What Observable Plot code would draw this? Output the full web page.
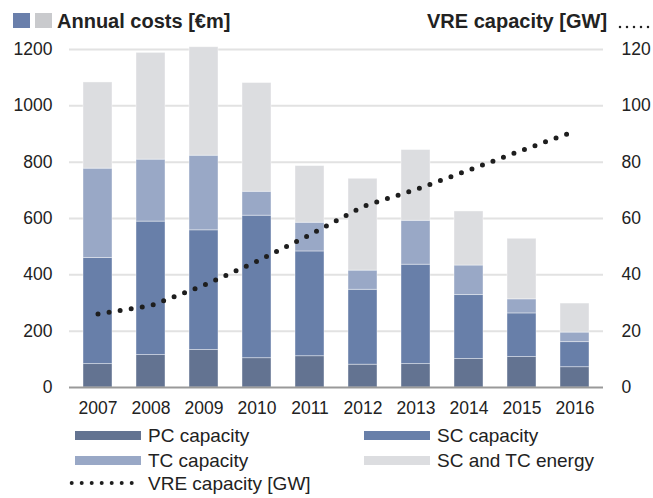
<!DOCTYPE html>
<html><head><meta charset="utf-8">
<script src="https://cdn.jsdelivr.net/npm/d3@7"></script>
<script src="https://cdn.jsdelivr.net/npm/@observablehq/plot@0.6"></script>
<style>
body{margin:0;background:#fff;font-family:"Liberation Sans",Arial,sans-serif;color:#222}
#wrap{position:relative;width:653px;height:498px;overflow:hidden}
.abs{position:absolute;white-space:nowrap}
.title{font-weight:bold;font-size:20px;line-height:20px;top:11px}
.lg{font-size:19px;line-height:19px}
.sw{position:absolute;width:66px;height:9px}
#chart{position:absolute;left:0;top:34px}
</style></head><body>
<div id="wrap">
  <div class="abs" id="sq1" style="left:13px;top:13px;width:17px;height:15px"></div>
  <div class="abs" id="sq2" style="left:35px;top:13px;width:17px;height:15px"></div>
  <div class="abs title" style="left:57px">Annual costs [€m]</div>
  <div class="abs title" style="left:427px">VRE capacity [GW]</div>
  <svg class="abs" style="left:618px;top:20px" width="34" height="12"><line x1="2" x2="32" y1="7" y2="7" stroke="#222" stroke-width="2.5" stroke-linecap="round" stroke-dasharray="0 7"/></svg>
  <div id="chart"></div>
  <div id="legend"></div>
</div>
<script>
const years = ["2007","2008","2009","2010","2011","2012","2013","2014","2015","2016"];
const pcCapacity = [83, 115, 133, 104, 111, 81, 83, 101, 108, 72];
const scCapacity = [377, 474, 425, 506, 372, 266, 353, 227, 155, 89];
const tcCapacity = [317, 220, 265, 85, 102, 68, 156, 105, 50, 34];
const scTcEnergy = [306, 379, 385, 386, 201, 326, 251, 192, 215, 103];
const vreCapacityGW = [26.1, 29.1, 36.3, 44.8, 54.2, 64.3, 70.3, 77.2, 84.2, 91];
const seriesNames = ["PC capacity", "SC capacity", "TC capacity", "SC and TC energy"];
const seriesColors = ["#637391", "#687fa9", "#99a8c6", "#dcdde0"];
const costTicks = [0, 200, 400, 600, 800, 1000, 1200];
const vreLabel = "VRE capacity [GW]";

document.getElementById("sq1").style.background = "#6a7fab";
document.getElementById("sq2").style.background = "#c9cacd";

const arrays = [pcCapacity, scCapacity, tcCapacity, scTcEnergy];
const rows = [];
years.forEach((y, i) => arrays.forEach((arr, k) => rows.push({year: y, series: seriesNames[k], value: arr[i]})));
const vre = years.map((y, i) => ({year: y, gw: vreCapacityGW[i]}));

const chart = Plot.plot({
  width: 653, height: 390,
  marginTop: 15, marginBottom: 37, marginLeft: 69, marginRight: 50,
  style: {fontFamily: "Liberation Sans, Arial, sans-serif", fontSize: "17.5px", color: "#222", background: "transparent"},
  x: {domain: years, paddingInner: 0.45, paddingOuter: 0.225, label: null},
  y: {domain: [0, 1200], label: null},
  color: {domain: seriesNames, range: seriesColors},
  marks: [
    Plot.gridY(costTicks.slice(1), {stroke: "#e2e2e2", strokeOpacity: 1, strokeWidth: 2}),
    Plot.barY(rows, {x: "year", y: "value", fill: "series", stroke: "#fff", strokeWidth: 0.8, strokeOpacity: 0.5}),
    Plot.ruleY([0], {stroke: "#999", strokeWidth: 2}),
    Plot.line(vre, {x: "year", y: d => d.gw * 10, stroke: "#1e1e1e", strokeWidth: 5, strokeDasharray: "0 11.2", strokeLinecap: "round"}),
    Plot.axisY({anchor: "left", ticks: costTicks, tickFormat: d => String(d), tickSize: 0, tickPadding: 17, label: null}),
    Plot.axisY({anchor: "right", ticks: costTicks, tickFormat: d => String(d / 10), tickSize: 0, tickPadding: 18, label: null}),
    Plot.axisX({tickSize: 0, tickPadding: 14, label: null})
  ]
});
document.getElementById("chart").appendChild(chart);

// legend
const legend = document.getElementById("legend");
const items = [
  {name: seriesNames[0], color: seriesColors[0], sx: 75, tx: 148, cy: 435.7},
  {name: seriesNames[1], color: seriesColors[1], sx: 364, tx: 437, cy: 435.7},
  {name: seriesNames[2], color: seriesColors[2], sx: 75, tx: 148, cy: 460},
  {name: seriesNames[3], color: seriesColors[3], sx: 364, tx: 437, cy: 460}
];
for (const it of items) {
  const s = document.createElement("div");
  s.className = "sw";
  s.style.left = it.sx + "px"; s.style.top = (it.cy - 4.5) + "px"; s.style.background = it.color;
  legend.appendChild(s);
  const t = document.createElement("div");
  t.className = "abs lg";
  t.style.left = it.tx + "px"; t.style.top = (it.cy - 9.3) + "px";
  t.textContent = it.name;
  legend.appendChild(t);
}
const ns = "http://www.w3.org/2000/svg";
const dsvg = document.createElementNS(ns, "svg");
dsvg.setAttribute("width", 70); dsvg.setAttribute("height", 10);
dsvg.setAttribute("style", "position:absolute;left:68px;top:478.3px");
const dl = document.createElementNS(ns, "line");
dl.setAttribute("x1", 3.7); dl.setAttribute("x2", 64); dl.setAttribute("y1", 5); dl.setAttribute("y2", 5);
dl.setAttribute("stroke", "#1e1e1e"); dl.setAttribute("stroke-width", 4);
dl.setAttribute("stroke-linecap", "round"); dl.setAttribute("stroke-dasharray", "0 10");
dsvg.appendChild(dl);
legend.appendChild(dsvg);
const vt = document.createElement("div");
vt.className = "abs lg";
vt.style.left = "148px"; vt.style.top = (483.3 - 9.3) + "px";
vt.textContent = vreLabel;
legend.appendChild(vt);
</script>
</body></html>
